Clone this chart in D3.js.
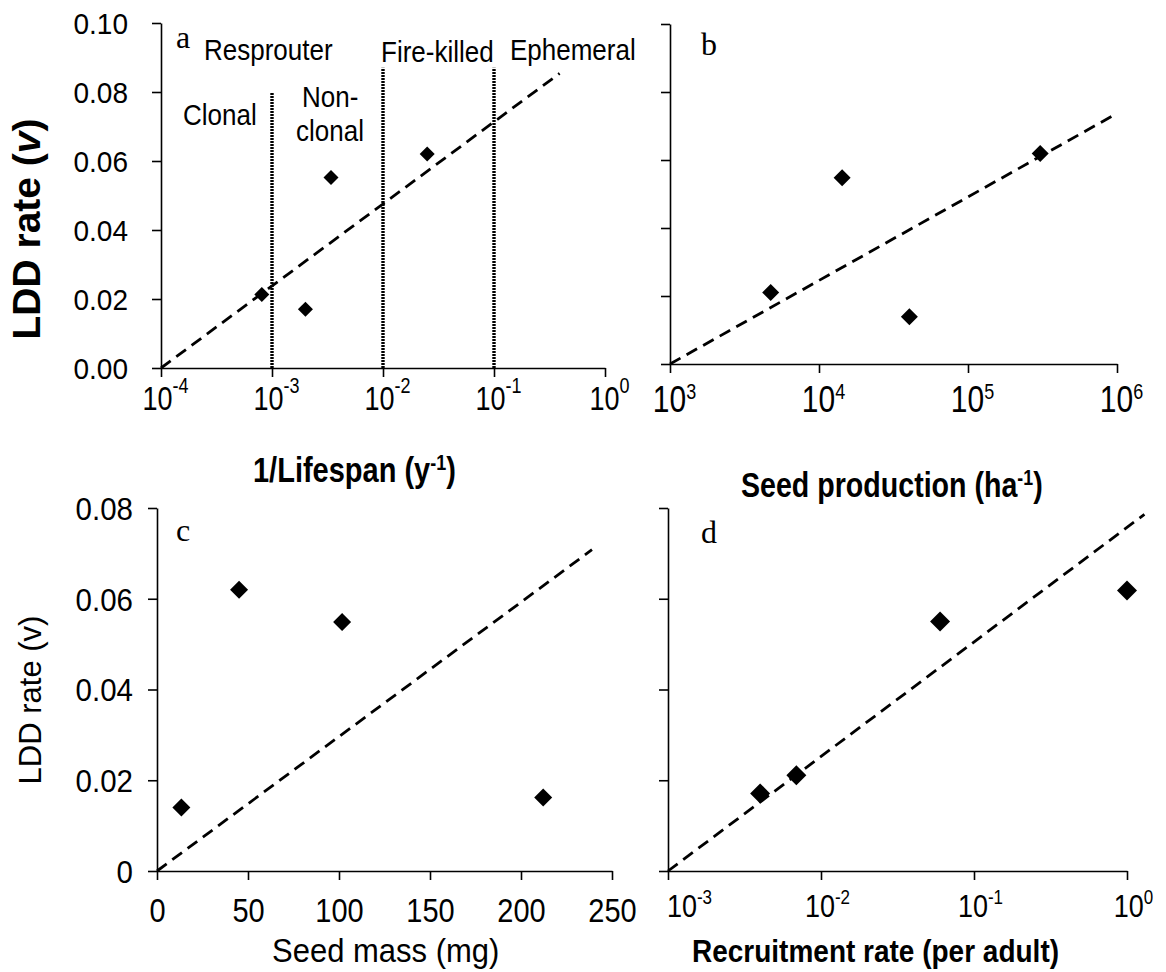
<!DOCTYPE html>
<html>
<head>
<meta charset="utf-8">
<script src="https://cdn.jsdelivr.net/npm/d3@7"></script>
<style>
    body { margin: 0; background: #fff; }
    text { font-family: "Liberation Sans", Arial, sans-serif; fill: #000; }
</style>
</head>
<body>
<script>
    //Global variables
        const width = 1166;
        const height = 972;
        const tall = 1.2;   //x labels and titles in the original are a little condensed

    //Data, panel a: 1/lifespan vs LDD rate
        const lifespanX = [8.1e-4, 2.0e-3, 3.4e-3, 2.5e-2];
        const lifespanY = [0.0213, 0.0170, 0.0552, 0.0620];
        const lifespanFit = [[1e-4, 0], [0.39, 0.0854]];
        const groupBounds = [1e-3, 1e-2, 1e-1];
        const groupTops = [0.080, 0.087, 0.087];

    //Data, panel b: seed production
        const seedProdX = [4740, 14300, 40400, 305000];
        const seedProdY = [0.0210, 0.0548, 0.0139, 0.0619];
        const seedProdFit = [[1e3, 0], [9.9e5, 0.0736]];

    //Data, panel c: seed mass
        const seedMassX = [13.4, 45.1, 101.7, 212.2];
        const seedMassY = [0.0140, 0.0620, 0.0549, 0.0162];
        const seedMassFit = [[0, 0], [239, 0.0708]];

    //Data, panel d: recruitment rate
        const recruitX = [0.0040, 0.0069, 0.060, 1.0];
        const recruitY = [0.0171, 0.0211, 0.0550, 0.0618];
        const recruitFit = [[1e-3, 0], [1.3, 0.0786]];

    //Ticks and tick labels
        const rateTicksTop = [0, 0.02, 0.04, 0.06, 0.08, 0.10];
        const rateLabelsTop = ["0.00", "0.02", "0.04", "0.06", "0.08", "0.10"];
        const rateTicksBottom = [0, 0.02, 0.04, 0.06, 0.08];
        const rateLabelsBottom = ["0", "0.02", "0.04", "0.06", "0.08"];
        const lifespanTicks = [1e-4, 1e-3, 1e-2, 1e-1, 1];
        const lifespanExps = ["-4", "-3", "-2", "-1", "0"];
        const seedProdTicks = [1e3, 1e4, 1e5, 1e6];
        const seedProdExps = ["3", "4", "5", "6"];
        const seedMassTicks = [0, 50, 100, 150, 200, 250];
        const recruitTicks = [1e-3, 1e-2, 1e-1, 1];
        const recruitExps = ["-3", "-2", "-1", "0"];


    //SVG element
        const svg = d3.select("body")
                    .append("svg")
                    .attr("width", width)
                    .attr("height", height);

        //place a text at (x, y) and stretch it vertically from its baseline
        function place(sel, x, y, k) {
            return sel.attr("x", 0).attr("y", 0)
                .attr("transform", "translate(" + x + "," + y + ") scale(1," + (k || tall) + ")");
        }


    //One scatter panel: axes, fit line, diamonds
        function drawPanel(p) {
            const x = p.x, y = p.y;
            const left = x.range()[0];
            const bottom = y.range()[0];
            const g = svg.append("g");

            //Dashed fit line
            g.append("path")
                .datum(p.fit)
                .attr("d", d3.line().x(d => x(d[0])).y(d => y(d[1])))
                .attr("fill", "none")
                .attr("stroke", "#000")
                .attr("stroke-width", 2.8)
                .attr("stroke-dasharray", "12,7");

            //Diamonds
            const pts = p.xs.map((v, i) => [v, p.ys[i]]);
            g.selectAll(".pt")
                .data(pts)
                .enter()
                .append("path")
                .attr("d", d3.symbol().type(d3.symbolSquare).size(2 * p.half * p.half))
                .attr("transform", d => "translate(" + x(d[0]) + "," + y(d[1]) + ") rotate(45)")
                .attr("fill", "#000");

            //Axes
            const leftAxis = d3.axisLeft(y)
                            .tickValues(p.yTicks)
                            .tickSize(9)
                            .tickSizeOuter(0)
                            .tickFormat((d, i) => p.yLabels ? p.yLabels[i] : "");
            const gy = g.append("g")
                .attr("transform", "translate(" + left + ",0)")
                .call(leftAxis)
                .attr("font-family", null)
                .attr("font-size", p.tickFont);
            gy.selectAll(".tick text").each(function() {
                place(d3.select(this), -p.yPad, 0, 1.08).attr("dy", "0.36em");
            });

            const bottomAxis = d3.axisBottom(x)
                            .tickValues(p.xTicks)
                            .tickSize(9)
                            .tickSizeOuter(0)
                            .tickFormat(d => p.xExps ? "" : d);
            const gx = g.append("g")
                .attr("transform", "translate(0," + bottom + ")")
                .call(bottomAxis)
                .attr("font-family", null)
                .attr("font-size", p.xFont);
            gx.selectAll(".tick text").each(function(d, i) {
                const shift = (i === 0 ? p.firstShift : 0) + p.xShift;
                place(d3.select(this), shift, p.xPad, p.xTall).attr("dy", 0);
            });

            //Powers of ten as 10 with superscript
            if (p.xExps) {
                gx.selectAll(".tick text").each(function(d, i) {
                    const t = d3.select(this);
                    t.append("tspan").text("10");
                    t.append("tspan")
                        .attr("dy", -p.supRise)
                        .attr("font-size", p.supFont)
                        .text(p.xExps[i]);
                });
            }

            g.selectAll(".domain, .tick line")
                .attr("stroke", "#000")
                .attr("stroke-width", 1.6);

            //Panel letter
            g.append("text")
                .attr("x", p.letterPos[0])
                .attr("y", p.letterPos[1])
                .style("font-family", "'Liberation Serif', 'Times New Roman', serif")
                .attr("font-size", 32)
                .text(p.letter);

            return g;
        }


    //Panel a
        const xA = d3.scaleLog().domain([1e-4, 1]).range([161, 605]);
        const yA = d3.scaleLinear().domain([0, 0.10]).range([368, 23]);
        const gA = drawPanel({
            x: xA, y: yA, xs: lifespanX, ys: lifespanY, fit: lifespanFit, half: 7.5,
            yTicks: rateTicksTop, yLabels: rateLabelsTop, tickFont: 28, yPad: 33,
            xTicks: lifespanTicks, xExps: lifespanExps, xFont: 27, xPad: 410 - 368, xTall: 1.2,
            supFont: 18, supRise: 14, xShift: 4, firstShift: 0,
            letter: "a", letterPos: [176, 48]
        });

        //Life-history group boundaries
        gA.selectAll(".bound")
            .data(groupBounds)
            .enter()
            .append("line")
            .attr("x1", d => xA(d))
            .attr("x2", d => xA(d))
            .attr("y1", yA(0))
            .attr("y2", (d, i) => yA(groupTops[i]))
            .attr("stroke", "#000")
            .attr("stroke-width", 3.4)
            .attr("stroke-dasharray", "2,1");

        const groupNames = [
            ["Resprouter", 204, 60], ["Fire-killed", 381, 62], ["Ephemeral", 510, 60],
            ["Clonal", 183, 125], ["Non-", 302, 107], ["clonal", 296, 141]
        ];
        gA.selectAll(".group")
            .data(groupNames)
            .enter()
            .append("text")
            .attr("font-size", 26)
            .each(function(d) { place(d3.select(this), d[1], d[2], 1.1); })
            .text(d => d[0]);


    //Panel b
        drawPanel({
            x: d3.scaleLog().domain([1e3, 1e6]).range([670, 1117]),
            y: d3.scaleLinear().domain([0, 0.10]).range([364, 24]),
            xs: seedProdX, ys: seedProdY, fit: seedProdFit, half: 8.5,
            yTicks: rateTicksTop, yLabels: null, tickFont: 27, yPad: 25,
            xTicks: seedProdTicks, xExps: seedProdExps, xFont: 30, xPad: 412 - 364, xTall: 1.2,
            supFont: 18, supRise: 11, xShift: 4, firstShift: 0,
            letter: "b", letterPos: [701, 55]
        });


    //Panel c
        drawPanel({
            x: d3.scaleLinear().domain([0, 250]).range([157, 612]),
            y: d3.scaleLinear().domain([0, 0.08]).range([871, 508]),
            xs: seedMassX, ys: seedMassY, fit: seedMassFit, half: 9,
            yTicks: rateTicksBottom, yLabels: rateLabelsBottom, tickFont: 29.5, yPad: 24,
            xTicks: seedMassTicks, xExps: null, xFont: 29, xPad: 922 - 871, xTall: 1.15,
            xShift: 0, firstShift: 0,
            letter: "c", letterPos: [176, 541]
        });


    //Panel d
        drawPanel({
            x: d3.scaleLog().domain([1e-3, 1]).range([668, 1127]),
            y: d3.scaleLinear().domain([0, 0.08]).range([871, 508]),
            xs: recruitX, ys: recruitY, fit: recruitFit, half: 10,
            yTicks: rateTicksBottom, yLabels: null, tickFont: 27, yPad: 16,
            xTicks: recruitTicks, xExps: recruitExps, xFont: 27, xPad: 917 - 871, xTall: 1.15,
            supFont: 17, supRise: 11, xShift: 6, firstShift: 15,
            letter: "d", letterPos: [701, 543]
        });


    //Axis titles
        function supTitle(x0, y0, size, weight, before, sup, after) {
            const t = place(svg.append("text"), x0, y0)
                .attr("font-size", size)
                .attr("font-weight", weight);
            t.append("tspan").text(before);
            t.append("tspan").attr("dy", -10).attr("font-size", size * 0.62).text(sup);
            t.append("tspan").attr("dy", 10).text(after);
        }
        supTitle(253, 482, 29, "bold", "1/Lifespan (y", "-1", ")");
        supTitle(741, 497, 28.6, "bold", "Seed production (ha", "-1", ")");

        place(svg.append("text"), 272, 962, 1.1)
            .attr("font-size", 31)
            .text("Seed mass (mg)");

        place(svg.append("text"), 692, 962, 1.1)
            .attr("font-size", 28)
            .attr("font-weight", "bold")
            .text("Recruitment rate (per adult)");

        const titleA = svg.append("text")
            .attr("transform", "translate(40,229) rotate(-90)")
            .attr("text-anchor", "middle")
            .attr("font-size", 39)
            .attr("font-weight", "bold");
        titleA.append("tspan").text("LDD rate (");
        titleA.append("tspan").attr("font-style", "italic").text("v");
        titleA.append("tspan").text(")");

        svg.append("text")
            .attr("transform", "translate(41,700) rotate(-90)")
            .attr("text-anchor", "middle")
            .attr("font-size", 31)
            .text("LDD rate (v)");
</script>
</body>
</html>
